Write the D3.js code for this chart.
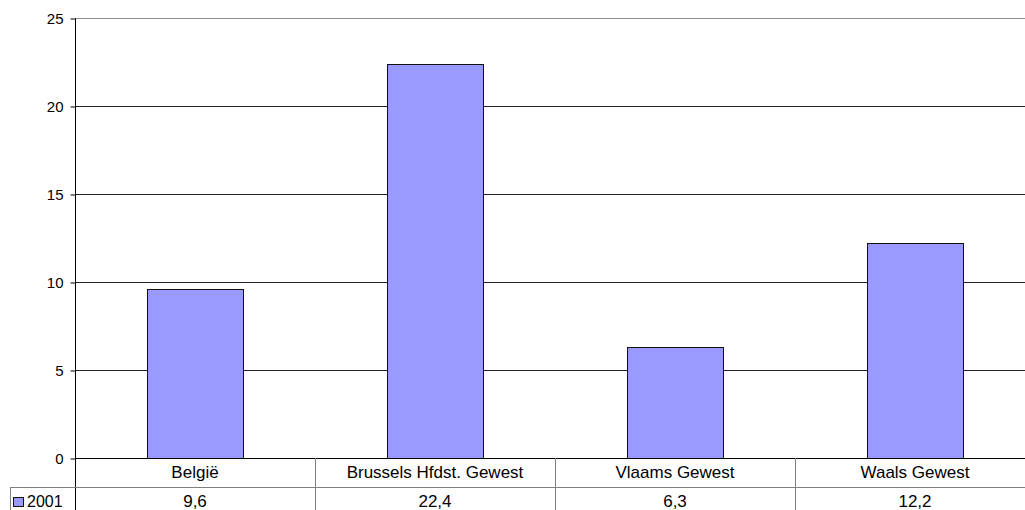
<!DOCTYPE html>
<html><head><meta charset="utf-8">
<script src="https://cdn.jsdelivr.net/npm/d3@7"></script>
<style>body{margin:0;background:#fff;}svg{display:block;font-family:"Liberation Sans",Arial,sans-serif;}</style>
</head><body>
<svg id="c" width="1025" height="510"></svg>
<script>
const categories = ["België", "Brussels Hfdst. Gewest", "Vlaams Gewest", "Waals Gewest"];
const values2001 = [9.6, 22.4, 6.3, 12.2];
const valueLabels = ["9,6", "22,4", "6,3", "12,2"];
const seriesName = "2001";
const yTicks = [0, 5, 10, 15, 20, 25];

const svg = d3.select("#c");
const pLeft = 75, pRight = 1035, pTop = 18, pBottom = 458;
const x = d3.scaleBand().domain(categories).range([pLeft, pRight]).paddingInner(0).paddingOuter(0);
const y = d3.scaleLinear().domain([0, 25]).range([pBottom, pTop]);

// gridlines
svg.append("g").selectAll("line").data(yTicks.filter(d => d > 0)).join("line")
  .attr("x1", pLeft).attr("x2", pRight)
  .attr("y1", d => Math.round(y(d)) + 0.5).attr("y2", d => Math.round(y(d)) + 0.5)
  .attr("stroke", d => d === 25 ? "#909090" : "#222").attr("stroke-width", 1);

// bars
const bw = x.bandwidth() * 0.4;
svg.append("g").selectAll("rect").data(values2001).join("rect")
  .attr("x", (d, i) => Math.round(x(categories[i]) + x.bandwidth() / 2 - bw / 2) + 0.5)
  .attr("y", d => Math.round(y(d)) + 0.5)
  .attr("width", Math.round(bw))
  .attr("height", d => Math.round(y(0)) - Math.round(y(d)))
  .attr("fill", "#9999FF").attr("stroke", "#111").attr("stroke-width", 1);

// y axis
const yAxis = d3.axisLeft(y).tickValues(yTicks).tickSize(5).tickPadding(7).tickFormat(d3.format("d"));
const ga = svg.append("g").attr("transform", `translate(${pLeft + 0.5},0.5)`).call(yAxis);
ga.select(".domain").attr("stroke", "#000").attr("d", `M0,${pTop}V510`);
ga.selectAll(".tick line").attr("stroke", "#000");
ga.selectAll(".tick text").attr("fill", "#000").style("font-size", "15px").style("font-family", "'Liberation Sans',Arial,sans-serif");

// baseline
svg.append("line").attr("x1", pLeft).attr("x2", pRight).attr("y1", pBottom + 0.5).attr("y2", pBottom + 0.5).attr("stroke", "#000");

// data table
const rowY = 487;
svg.append("line").attr("x1", 10).attr("x2", pRight).attr("y1", rowY + 0.5).attr("y2", rowY + 0.5).attr("stroke", "#808080");
svg.append("line").attr("x1", 10.5).attr("x2", 10.5).attr("y1", rowY).attr("y2", 510).attr("stroke", "#808080");
svg.append("g").selectAll("line").data(categories.slice(1)).join("line")
  .attr("x1", d => x(d) + 0.5).attr("x2", d => x(d) + 0.5)
  .attr("y1", pBottom).attr("y2", 510).attr("stroke", "#808080");

svg.append("g").selectAll("text").data(categories).join("text")
  .attr("x", d => x(d) + x.bandwidth() / 2).attr("y", 478)
  .attr("text-anchor", "middle").style("font-size", "17px").attr("fill", "#000").text(d => d);
svg.append("g").selectAll("text").data(valueLabels).join("text")
  .attr("x", (d, i) => x(categories[i]) + x.bandwidth() / 2).attr("y", 507)
  .attr("text-anchor", "middle").style("font-size", "17px").attr("fill", "#000").text(d => d);

// legend
svg.append("rect").attr("x", 13.5).attr("y", 497.5).attr("width", 10).attr("height", 9)
  .attr("fill", "#9999FF").attr("stroke", "#111");
svg.append("text").attr("x", 27).attr("y", 507).style("font-size", "16px").attr("fill", "#000").text(seriesName);
</script>
</body></html>
